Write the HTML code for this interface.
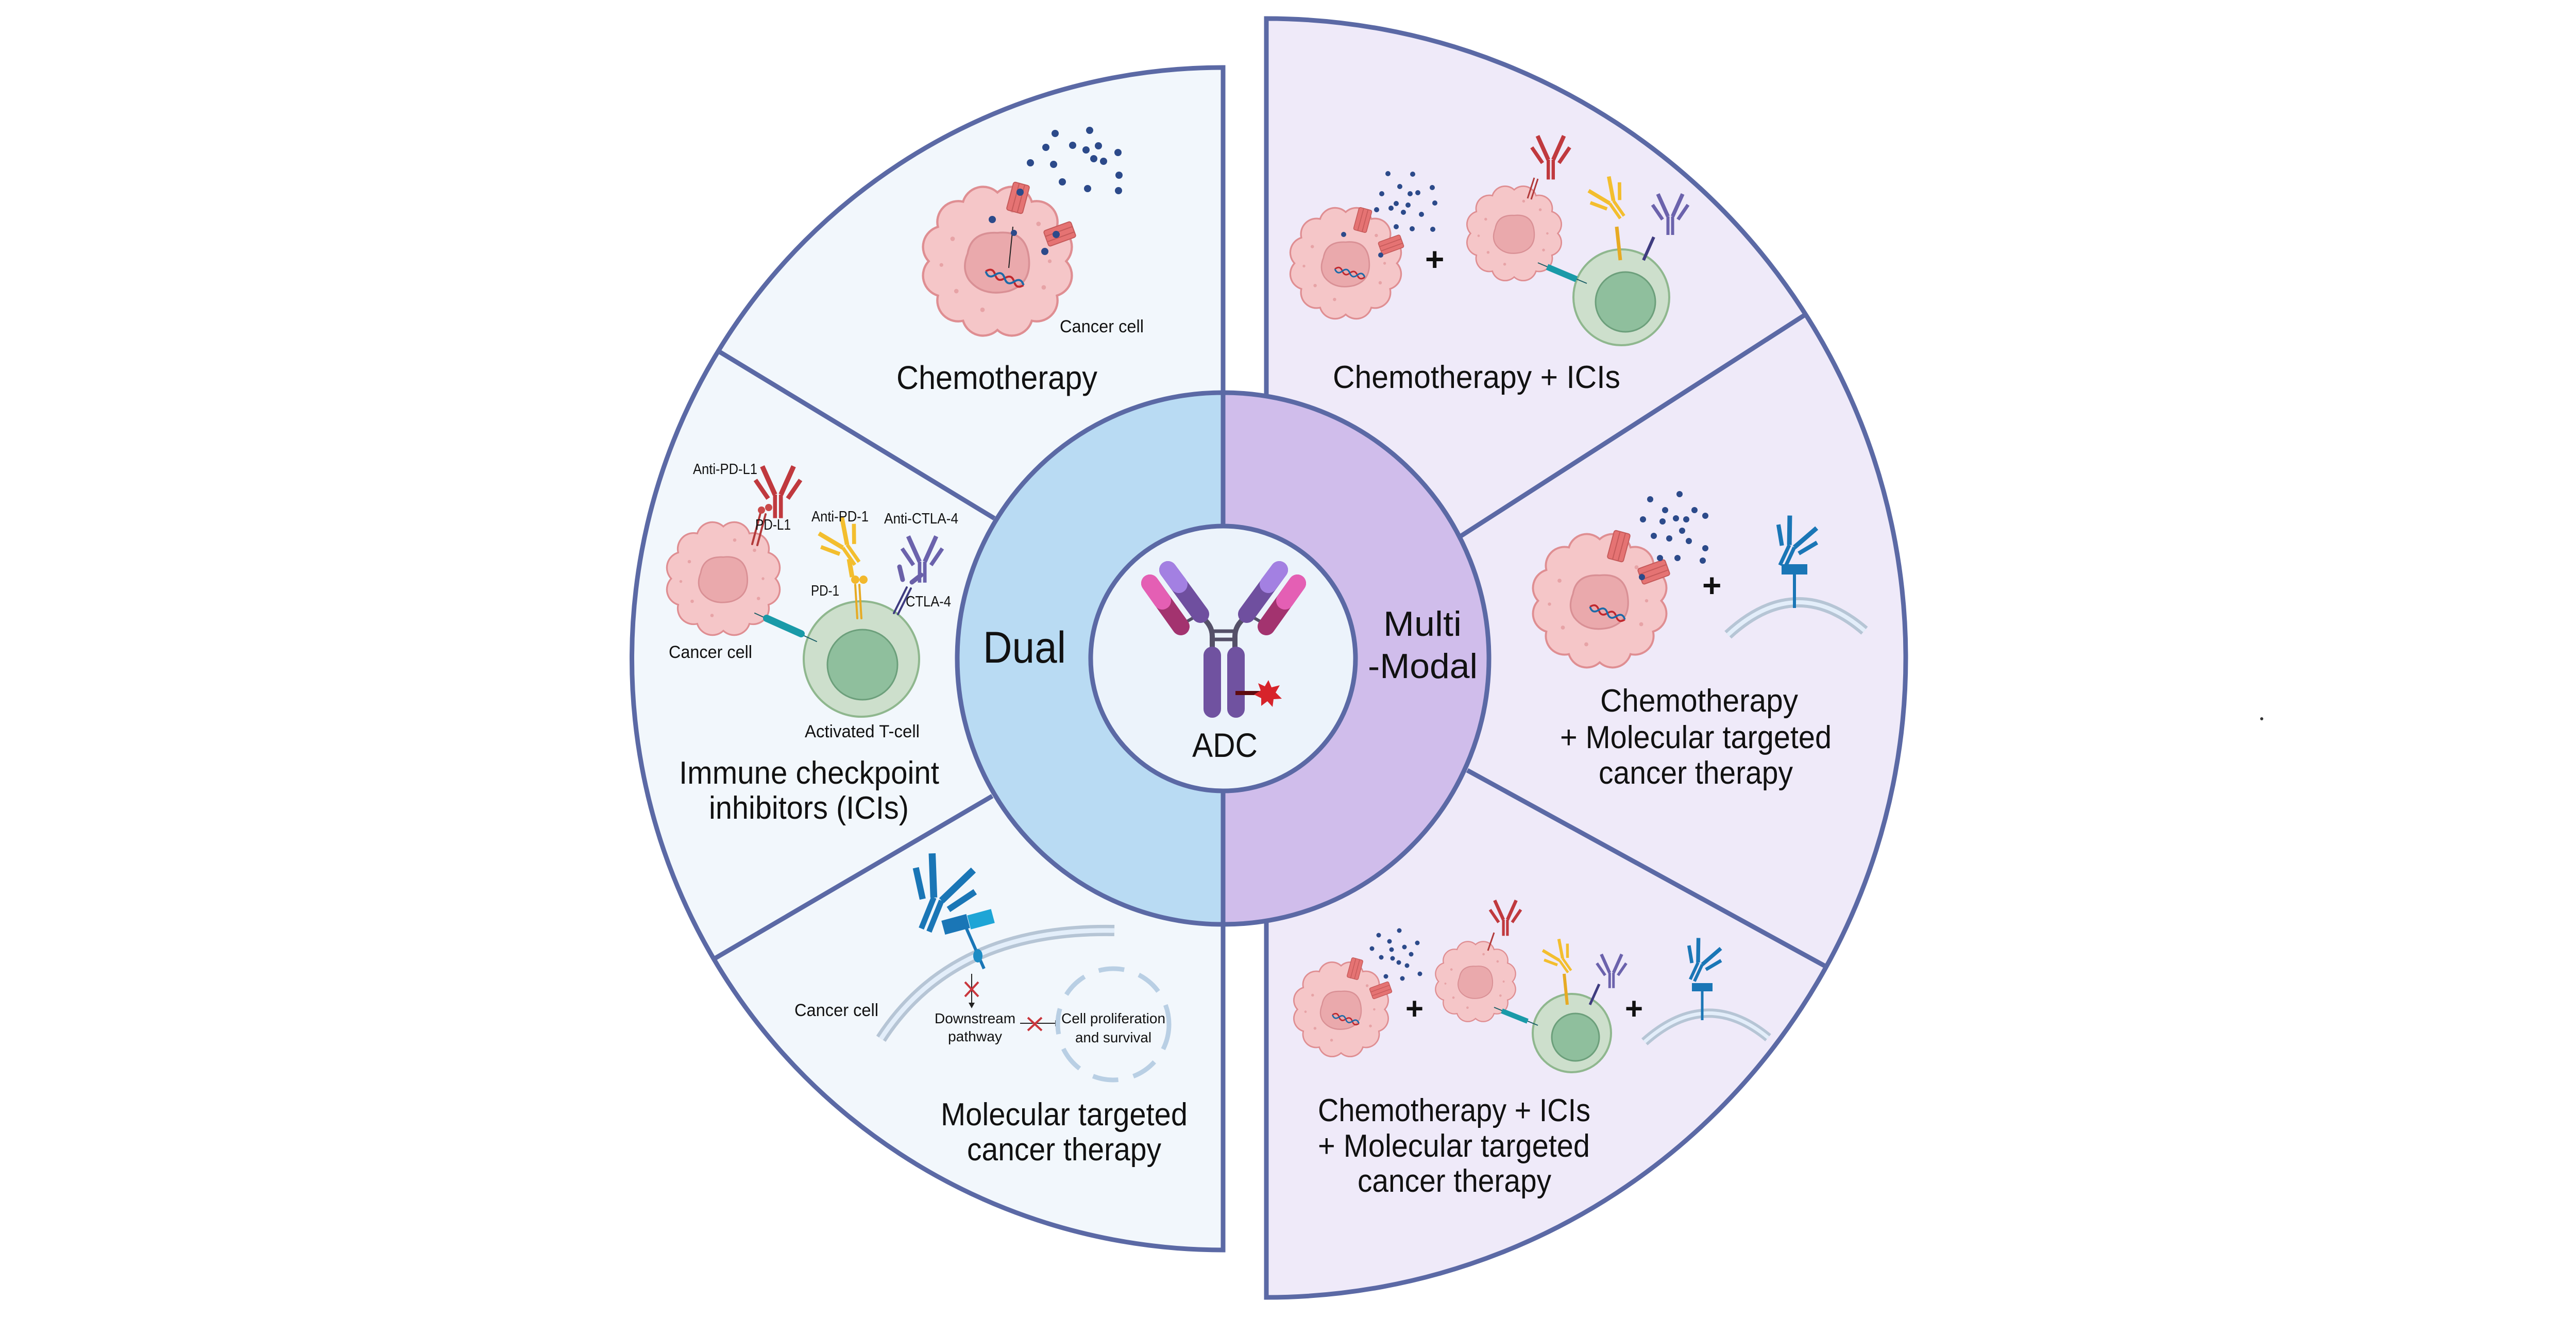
<!DOCTYPE html>
<html><head><meta charset="utf-8"><style>
html,body{margin:0;padding:0;background:#fff;}
svg{display:block;}
text{font-family:"Liberation Sans",sans-serif;fill:#111;}
</style></head><body>
<svg width="5025" height="2558" viewBox="0 0 5025 2558" xmlns="http://www.w3.org/2000/svg">
<defs>
<g id="cell">
<path d="M92,0 A28,28 0 0 1 79.7,46 A28,28 0 0 1 46,79.7 A28,28 0 0 1 0,92 A28,28 0 0 1 -46,79.7 A28,28 0 0 1 -79.7,46 A28,28 0 0 1 -92,0 A28,28 0 0 1 -79.7,-46 A28,28 0 0 1 -46,-79.7 A28,28 0 0 1 0,-92 A28,28 0 0 1 46,-79.7 A28,28 0 0 1 79.7,-46 A28,28 0 0 1 92,0 Z" fill="#f5c6c8" stroke="#df8e92" stroke-width="3"/>
<path d="M-40,-10 Q-35,-40 0,-38 Q38,-42 42,-5 Q46,30 15,40 Q-20,48 -38,25 Q-48,10 -40,-10 Z" fill="#eaa9ac" stroke="#d99095" stroke-width="2.5"/>
<g fill="#e7a3a6"><circle cx="-60" cy="-30" r="3"/><circle cx="-55" cy="40" r="3"/><circle cx="55" cy="-50" r="3"/><circle cx="62" cy="35" r="3"/><circle cx="-20" cy="65" r="3"/><circle cx="20" cy="-68" r="3"/><circle cx="-75" cy="5" r="2.5"/><circle cx="70" cy="0" r="2.5"/></g>
</g>
<g id="dna">
<path d="M-30,0 q7.5,-10 15,0 t15,0 t15,0 t15,0" fill="none" stroke="#c0272d" stroke-width="3"/>
<path d="M-30,0 q7.5,10 15,0 t15,0 t15,0 t15,0" fill="none" stroke="#1c6aa8" stroke-width="3"/>
</g>
<g id="ab" fill="none" stroke="currentColor" stroke-linecap="butt">
<path d="M-6,0 V48 M6,0 V48" stroke-width="8"/>
<path d="M-6,0 L-32,-58 M6,0 L32,-58" stroke-width="10"/>
<path d="M-20,8 L-46,-30 M20,8 L46,-30" stroke-width="9"/>
</g>
<g id="chan"><rect x="-16" y="-28" width="32" height="56" rx="4" fill="#e57373" stroke="#c55a5a" stroke-width="2"/><line x1="-5" y1="-28" x2="-5" y2="28" stroke="#c55a5a" stroke-width="2"/><line x1="6" y1="-28" x2="6" y2="28" stroke="#c55a5a" stroke-width="2"/></g>
</defs>

<!-- Left panel -->
<path d="M2374,131 A1147,1147 0 0 0 2374,2426 Z" fill="#f2f7fc" stroke="#5b69a5" stroke-width="9"/>
<!-- Right panel -->
<path d="M2458,36 A1240,1240 0 0 1 2458,2518 Z" fill="#efeaf9" stroke="#5b69a5" stroke-width="9"/>
<!-- dividers -->
<g stroke="#5b69a5" stroke-width="9">
<line x1="1930" y1="1006" x2="1397" y2="683"/>
<line x1="1926" y1="1545" x2="1386" y2="1861"/>
<line x1="2836" y1="1040" x2="3505" y2="610"/>
<line x1="2848" y1="1495" x2="3548" y2="1878"/>
</g>
<!-- middle ring -->
<path d="M2374,762 A516,516 0 0 0 2374,1794 Z" fill="#b9dbf3" stroke="#5b69a5" stroke-width="9"/>
<path d="M2374,762 A516,516 0 0 1 2374,1794 Z" fill="#d0bdeb" stroke="#5b69a5" stroke-width="9"/>
<circle cx="2374" cy="1278" r="257" fill="#ecf3fb" stroke="#5b69a5" stroke-width="9"/>

<!-- ADC antibody -->
<g stroke-linecap="round">
<path d="M2353,1262 V1235 Q2353,1212 2330,1196" fill="none" stroke="#555068" stroke-width="10"/>
<path d="M2397,1262 V1235 Q2397,1212 2420,1196" fill="none" stroke="#555068" stroke-width="10"/>
<line x1="2353" y1="1225" x2="2397" y2="1225" stroke="#555068" stroke-width="7"/>
<line x1="2353" y1="1241" x2="2397" y2="1241" stroke="#555068" stroke-width="7"/>
<line x1="2290" y1="1214" x2="2318" y2="1198" stroke="#555068" stroke-width="6"/>
<line x1="2460" y1="1214" x2="2432" y2="1198" stroke="#555068" stroke-width="6"/>
<line x1="2267" y1="1106" x2="2330" y2="1192" stroke="#6f4f9f" stroke-width="34"/>
<line x1="2267" y1="1106" x2="2288" y2="1134" stroke="#a380e2" stroke-width="34"/>
<line x1="2483" y1="1106" x2="2420" y2="1192" stroke="#6f4f9f" stroke-width="34"/>
<line x1="2483" y1="1106" x2="2462" y2="1134" stroke="#a380e2" stroke-width="34"/>
<line x1="2232" y1="1132" x2="2292" y2="1216" stroke="#a3336f" stroke-width="34"/>
<line x1="2232" y1="1132" x2="2256" y2="1166" stroke="#e45fb4" stroke-width="34"/>
<line x1="2518" y1="1132" x2="2458" y2="1216" stroke="#a3336f" stroke-width="34"/>
<line x1="2518" y1="1132" x2="2494" y2="1166" stroke="#e45fb4" stroke-width="34"/>
<line x1="2353" y1="1272" x2="2353" y2="1376" stroke="#7052a0" stroke-width="34"/>
<line x1="2399" y1="1272" x2="2399" y2="1376" stroke="#7052a0" stroke-width="34"/>
</g>
<line x1="2398" y1="1345" x2="2445" y2="1345" stroke="#5e0b10" stroke-width="8"/>
<polygon points="2462,1320 2468,1334 2484,1330 2476,1344 2488,1356 2472,1357 2470,1372 2460,1361 2448,1370 2448,1355 2434,1348 2447,1340 2442,1326 2455,1332" fill="#d7232a"/>

<!-- Center labels -->
<text x="2314" y="1469" font-size="66" textLength="127" lengthAdjust="spacingAndGlyphs">ADC</text>
<text x="1908" y="1286" font-size="86" textLength="161" lengthAdjust="spacingAndGlyphs">Dual</text>
<text x="2685" y="1234" font-size="68" textLength="152" lengthAdjust="spacingAndGlyphs">Multi</text>
<text x="2655" y="1316" font-size="68" textLength="213" lengthAdjust="spacingAndGlyphs">-Modal</text>

<!-- ===== Left: Chemotherapy ===== -->
<use href="#cell" transform="translate(1936,507) scale(1.45)"/>
<use href="#dna" transform="translate(1950,540) rotate(20) scale(1.3)"/>
<line x1="1966" y1="440" x2="1958" y2="520" stroke="#222" stroke-width="2"/>
<use href="#chan" transform="translate(1976,384) rotate(15)"/>
<use href="#chan" transform="translate(2057,454) rotate(70)"/>
<g fill="#2c4a8a">
<circle cx="2048" cy="259" r="7"/><circle cx="2115" cy="253" r="7"/><circle cx="2170" cy="296" r="7"/><circle cx="2030" cy="286" r="7"/><circle cx="2082" cy="282" r="7"/><circle cx="2108" cy="291" r="7"/><circle cx="2132" cy="283" r="7"/><circle cx="2000" cy="316" r="7"/><circle cx="2045" cy="319" r="7"/><circle cx="2123" cy="308" r="7"/><circle cx="2142" cy="313" r="7"/><circle cx="2172" cy="340" r="7"/><circle cx="2062" cy="353" r="7"/><circle cx="2111" cy="366" r="7"/><circle cx="2171" cy="370" r="7"/><circle cx="1926" cy="426" r="7"/><circle cx="1968" cy="452" r="6"/><circle cx="2028" cy="488" r="7"/><circle cx="1980" cy="373" r="7"/><circle cx="2050" cy="455" r="7"/>
</g>
<text x="2057" y="645" font-size="34" textLength="163" lengthAdjust="spacingAndGlyphs">Cancer cell</text>
<text x="1740" y="755" font-size="64" textLength="390" lengthAdjust="spacingAndGlyphs">Chemotherapy</text>

<!-- ===== Left: ICIs ===== -->
<use href="#cell" transform="translate(1404,1123) scale(1.1)"/>
<circle cx="1672" cy="1279" r="112" fill="#cddfcc" stroke="#8fb78e" stroke-width="4"/>
<circle cx="1674" cy="1290" r="68" fill="#8fbf9d" stroke="#6c9f7b" stroke-width="3"/>
<g stroke-linecap="round">
<line x1="1460" y1="1056" x2="1476" y2="996" stroke="#b23a3a" stroke-width="4"/>
<line x1="1470" y1="1058" x2="1486" y2="998" stroke="#b23a3a" stroke-width="4"/>
<circle cx="1478" cy="990" r="7" fill="#c94a4a"/><circle cx="1492" cy="985" r="7" fill="#c94a4a"/>
<line x1="1660" y1="1135" x2="1664" y2="1200" stroke="#e6aa24" stroke-width="4"/>
<line x1="1668" y1="1135" x2="1672" y2="1200" stroke="#e6aa24" stroke-width="4"/>
<circle cx="1660" cy="1125" r="8" fill="#f2b82c"/><circle cx="1676" cy="1125" r="8" fill="#f2b82c"/>
<line x1="1735" y1="1190" x2="1760" y2="1140" stroke="#3f3c80" stroke-width="4"/>
<line x1="1743" y1="1192" x2="1768" y2="1142" stroke="#3f3c80" stroke-width="4"/>
<line x1="1752" y1="1125" x2="1746" y2="1100" stroke="#6a60a8" stroke-width="9"/>
<line x1="1770" y1="1130" x2="1788" y2="1116" stroke="#6a60a8" stroke-width="9"/>
<line x1="1465" y1="1190" x2="1585" y2="1245" stroke="#1b5e66" stroke-width="2"/>
<line x1="1488" y1="1200" x2="1555" y2="1230" stroke="#1a9aa8" stroke-width="14"/>
</g>
<use href="#ab" transform="translate(1510,960) scale(0.95)" style="color:#c0393e"/>
<use href="#ab" transform="translate(1640,1060) rotate(-35) scale(0.85)" style="color:#f3be2e"/>
<use href="#ab" transform="translate(1790,1090) scale(0.85)" style="color:#6b62ac"/>
<line x1="1648" y1="1085" x2="1654" y2="1120" stroke="#f3be2e" stroke-width="9"/>
<text x="1345" y="920" font-size="29" textLength="125" lengthAdjust="spacingAndGlyphs">Anti-PD-L1</text>
<text x="1466" y="1028" font-size="29" textLength="69" lengthAdjust="spacingAndGlyphs">PD-L1</text>
<text x="1575" y="1012" font-size="29" textLength="111" lengthAdjust="spacingAndGlyphs">Anti-PD-1</text>
<text x="1716" y="1016" font-size="29" textLength="144" lengthAdjust="spacingAndGlyphs">Anti-CTLA-4</text>
<text x="1574" y="1156" font-size="29" textLength="55" lengthAdjust="spacingAndGlyphs">PD-1</text>
<text x="1758" y="1177" font-size="29" textLength="88" lengthAdjust="spacingAndGlyphs">CTLA-4</text>
<text x="1298" y="1277" font-size="34" textLength="162" lengthAdjust="spacingAndGlyphs">Cancer cell</text>
<text x="1562" y="1431" font-size="34" textLength="223" lengthAdjust="spacingAndGlyphs">Activated T-cell</text>
<text x="1318" y="1521" font-size="62" textLength="505" lengthAdjust="spacingAndGlyphs">Immune checkpoint</text>
<text x="1376" y="1589" font-size="62" textLength="388" lengthAdjust="spacingAndGlyphs">inhibitors (ICIs)</text>

<!-- ===== Left: Molecular targeted ===== -->
<path d="M1710,2016 Q1850,1800 2163,1806" fill="none" stroke="#b6c5d5" stroke-width="22"/>
<path d="M1710,2016 Q1850,1800 2163,1806" fill="none" stroke="#e3eefa" stroke-width="9"/>
<use href="#ab" transform="translate(1820,1745) rotate(22) scale(1.35)" style="color:#1a76b6"/>
<rect x="1830" y="1780" width="50" height="28" fill="#1a76b6" transform="rotate(-15 1855 1794)"/>
<rect x="1880" y="1770" width="48" height="28" fill="#1ea5d6" transform="rotate(-15 1904 1784)"/>
<line x1="1875" y1="1800" x2="1910" y2="1880" stroke="#1a76b6" stroke-width="6"/>
<ellipse cx="1898" cy="1855" rx="9" ry="13" fill="#1e8cc4"/>
<line x1="1886" y1="1890" x2="1886" y2="1950" stroke="#222" stroke-width="2"/>
<polygon points="1880,1946 1892,1946 1886,1957" fill="#222"/>
<path d="M1873,1906 L1899,1934 M1899,1906 L1873,1934" stroke="#c9363c" stroke-width="4"/>
<line x1="1980" y1="1986" x2="2050" y2="1986" stroke="#222" stroke-width="2"/>
<polygon points="2048,1980 2058,1986 2048,1992" fill="#222"/>
<path d="M1995,1975 L2022,2000 M2022,1975 L1995,2000" stroke="#c9363c" stroke-width="4"/>
<circle cx="2161" cy="1988" r="108" fill="none" stroke="#b9cfe4" stroke-width="9" stroke-dasharray="50,30"/>
<text x="1542" y="1972" font-size="34" textLength="163" lengthAdjust="spacingAndGlyphs">Cancer cell</text>
<text x="1814" y="1986" font-size="28" textLength="157" lengthAdjust="spacingAndGlyphs">Downstream</text>
<text x="1840" y="2021" font-size="28" textLength="105" lengthAdjust="spacingAndGlyphs">pathway</text>
<text x="2060" y="1986" font-size="28" textLength="202" lengthAdjust="spacingAndGlyphs">Cell proliferation</text>
<text x="2087" y="2023" font-size="28" textLength="148" lengthAdjust="spacingAndGlyphs">and survival</text>
<text x="1826" y="2184" font-size="62" textLength="479" lengthAdjust="spacingAndGlyphs">Molecular targeted</text>
<text x="1877" y="2252" font-size="62" textLength="377" lengthAdjust="spacingAndGlyphs">cancer therapy</text>

<!-- ===== Right top: Chemo + ICIs ===== -->
<use href="#cell" transform="translate(2612,511) scale(1.08)"/>
<use href="#dna" transform="translate(2620,530) rotate(15)"/>
<use href="#chan" transform="translate(2645,427) rotate(15) scale(0.8)"/>
<use href="#chan" transform="translate(2700,475) rotate(70) scale(0.8)"/>
<g fill="#2c4a8a">
<circle cx="2694" cy="337" r="5"/><circle cx="2742" cy="338" r="5"/><circle cx="2780" cy="364" r="5"/><circle cx="2682" cy="376" r="5"/><circle cx="2717" cy="362" r="5"/><circle cx="2737" cy="376" r="5"/><circle cx="2752" cy="374" r="5"/><circle cx="2710" cy="395" r="5"/><circle cx="2733" cy="398" r="5"/><circle cx="2785" cy="394" r="5"/><circle cx="2672" cy="407" r="5"/><circle cx="2700" cy="404" r="5"/><circle cx="2724" cy="412" r="5"/><circle cx="2759" cy="416" r="5"/><circle cx="2710" cy="440" r="5"/><circle cx="2741" cy="444" r="5"/><circle cx="2781" cy="445" r="5"/><circle cx="2608" cy="455" r="5"/><circle cx="2680" cy="495" r="5"/>
</g>
<text x="2766" y="525" font-size="64" font-weight="bold">+</text>
<use href="#cell" transform="translate(2939,453) scale(0.92)"/>
<circle cx="3147" cy="577" r="93" fill="#cddfcc" stroke="#8fb78e" stroke-width="4"/>
<circle cx="3155" cy="586" r="58" fill="#8fbf9d" stroke="#6c9f7b" stroke-width="3"/>
<line x1="2985" y1="510" x2="3080" y2="550" stroke="#1b5e66" stroke-width="2"/>
<line x1="3003" y1="518" x2="3060" y2="542" stroke="#1a9aa8" stroke-width="12"/>
<line x1="2965" y1="385" x2="2978" y2="345" stroke="#b23a3a" stroke-width="3"/>
<line x1="2972" y1="387" x2="2985" y2="347" stroke="#b23a3a" stroke-width="3"/>
<line x1="3138" y1="440" x2="3145" y2="505" stroke="#e6aa24" stroke-width="7"/>
<line x1="3190" y1="505" x2="3210" y2="460" stroke="#3f3c80" stroke-width="6"/>
<use href="#ab" transform="translate(3010,310) scale(0.8)" style="color:#c0393e"/>
<use href="#ab" transform="translate(3128,392) rotate(-35) scale(0.75)" style="color:#f3be2e"/>
<use href="#ab" transform="translate(3242,420) scale(0.75)" style="color:#6b62ac"/>
<text x="2587" y="753" font-size="62" textLength="558" lengthAdjust="spacingAndGlyphs">Chemotherapy + ICIs</text>

<!-- ===== Right mid ===== -->
<use href="#cell" transform="translate(3105,1166) scale(1.3)"/>
<use href="#dna" transform="translate(3120,1190) rotate(20) scale(1.2)"/>
<use href="#chan" transform="translate(3142,1060) rotate(15)"/>
<use href="#chan" transform="translate(3210,1110) rotate(70)"/>
<g fill="#2c4a8a">
<circle cx="3203" cy="969" r="6"/><circle cx="3260" cy="959" r="6"/><circle cx="3232" cy="990" r="6"/><circle cx="3289" cy="990" r="6"/><circle cx="3189" cy="1008" r="6"/><circle cx="3227" cy="1012" r="6"/><circle cx="3253" cy="1006" r="6"/><circle cx="3273" cy="1008" r="6"/><circle cx="3310" cy="1001" r="6"/><circle cx="3210" cy="1040" r="6"/><circle cx="3240" cy="1045" r="6"/><circle cx="3265" cy="1030" r="6"/><circle cx="3278" cy="1050" r="6"/><circle cx="3310" cy="1064" r="6"/><circle cx="3222" cy="1083" r="6"/><circle cx="3256" cy="1083" r="6"/><circle cx="3305" cy="1088" r="6"/><circle cx="3187" cy="1120" r="6"/>
</g>
<text x="3304" y="1158" font-size="64" font-weight="bold">+</text>
<path d="M3354,1232 Q3486,1110 3619,1224" fill="none" stroke="#b6c5d5" stroke-width="20"/>
<path d="M3354,1232 Q3486,1110 3619,1224" fill="none" stroke="#e3eefa" stroke-width="8"/>
<use href="#ab" transform="translate(3478,1060) rotate(25) scale(0.9)" style="color:#1a76b6"/>
<rect x="3458" y="1095" width="50" height="20" fill="#1a76b6"/>
<line x1="3483" y1="1115" x2="3483" y2="1180" stroke="#1a76b6" stroke-width="6"/>
<text x="3106" y="1381" font-size="62" textLength="384" lengthAdjust="spacingAndGlyphs">Chemotherapy</text>
<text x="3028" y="1452" font-size="62" textLength="527" lengthAdjust="spacingAndGlyphs">+ Molecular targeted</text>
<text x="3103" y="1521" font-size="62" textLength="377" lengthAdjust="spacingAndGlyphs">cancer therapy</text>

<!-- ===== Right bottom ===== -->
<use href="#cell" transform="translate(2603,1959) scale(0.92)"/>
<use href="#dna" transform="translate(2612,1978) rotate(18) scale(0.9)"/>
<use href="#chan" transform="translate(2630,1880) rotate(15) scale(0.7)"/>
<use href="#chan" transform="translate(2680,1922) rotate(70) scale(0.7)"/>
<g fill="#2c4a8a">
<circle cx="2676" cy="1815" r="4.5"/><circle cx="2716" cy="1806" r="4.5"/><circle cx="2697" cy="1827" r="4.5"/><circle cx="2751" cy="1830" r="4.5"/><circle cx="2663" cy="1841" r="4.5"/><circle cx="2701" cy="1843" r="4.5"/><circle cx="2726" cy="1838" r="4.5"/><circle cx="2739" cy="1852" r="4.5"/><circle cx="2681" cy="1858" r="4.5"/><circle cx="2703" cy="1860" r="4.5"/><circle cx="2715" cy="1868" r="4.5"/><circle cx="2731" cy="1874" r="4.5"/><circle cx="2756" cy="1890" r="4.5"/><circle cx="2690" cy="1895" r="4.5"/><circle cx="2722" cy="1899" r="4.5"/>
</g>
<text x="2728" y="1978" font-size="60" font-weight="bold">+</text>
<use href="#cell" transform="translate(2864,1905) scale(0.78)"/>
<circle cx="3051" cy="2005" r="76" fill="#cddfcc" stroke="#8fb78e" stroke-width="4"/>
<circle cx="3058" cy="2013" r="46" fill="#8fbf9d" stroke="#6c9f7b" stroke-width="3"/>
<line x1="2900" y1="1955" x2="2985" y2="1990" stroke="#1b5e66" stroke-width="2"/>
<line x1="2915" y1="1962" x2="2965" y2="1982" stroke="#1a9aa8" stroke-width="10"/>
<line x1="2888" y1="1845" x2="2900" y2="1810" stroke="#b23a3a" stroke-width="3"/>
<line x1="3036" y1="1890" x2="3042" y2="1950" stroke="#e6aa24" stroke-width="6"/>
<line x1="3086" y1="1950" x2="3104" y2="1910" stroke="#3f3c80" stroke-width="5"/>
<use href="#ab" transform="translate(2922,1785) scale(0.65)" style="color:#c0393e"/>
<use href="#ab" transform="translate(3030,1862) rotate(-35) scale(0.6)" style="color:#f3be2e"/>
<use href="#ab" transform="translate(3128,1888) scale(0.62)" style="color:#6b62ac"/>
<text x="3154" y="1978" font-size="60" font-weight="bold">+</text>
<path d="M3192,2022 Q3312,1915 3432,2014" fill="none" stroke="#b6c5d5" stroke-width="18"/>
<path d="M3192,2022 Q3312,1915 3432,2014" fill="none" stroke="#e3eefa" stroke-width="7"/>
<use href="#ab" transform="translate(3300,1870) rotate(25) scale(0.75)" style="color:#1a76b6"/>
<rect x="3284" y="1908" width="40" height="16" fill="#1a76b6"/>
<line x1="3304" y1="1924" x2="3304" y2="1980" stroke="#1a76b6" stroke-width="5"/>
<text x="2558" y="2176" font-size="62" textLength="529" lengthAdjust="spacingAndGlyphs">Chemotherapy + ICIs</text>
<text x="2558" y="2245" font-size="62" textLength="528" lengthAdjust="spacingAndGlyphs">+ Molecular targeted</text>
<text x="2635" y="2313" font-size="62" textLength="376" lengthAdjust="spacingAndGlyphs">cancer therapy</text>

<circle cx="4390" cy="1395" r="3" fill="#333"/>
</svg>
</body></html>
